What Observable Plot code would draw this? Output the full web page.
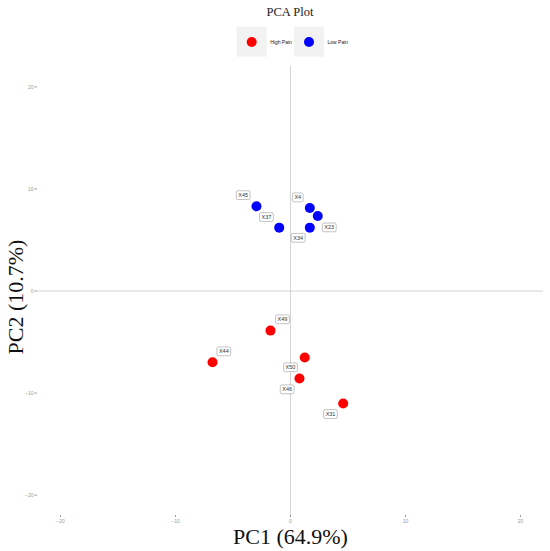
<!DOCTYPE html>
<html>
<head>
<meta charset="utf-8">
<script src="https://cdn.jsdelivr.net/npm/d3@7"></script>
<script src="https://cdn.jsdelivr.net/npm/@observablehq/plot@0.6"></script>
<style>
  html, body { margin: 0; padding: 0; background: white; }
  #wrap { width: 550px; }
  #header { position: relative; width: 550px; height: 60px; }
  #title { position: absolute; left: 0; width: 580px; top: 5px; text-align: center;
           font-family: "Liberation Serif", "DejaVu Serif", serif; font-size: 12.5px; color: #222; }
  #legend { position: absolute; left: 0; top: 0; }
</style>
</head>
<body>
<div id="wrap">
  <div id="header">
    <div id="title">PCA Plot</div>
    <svg id="legend" width="550" height="60"></svg>
  </div>
  <div id="chart"></div>
</div>
<script>
const samples = ["X45", "X37", "X4", "X23", "X34", "X49", "X44", "X50", "X46", "X31"];
const pc1 = [-2.96, -0.98, 1.68, 2.37, 1.68, -1.74, -6.78, 1.24, 0.78, 4.58];
const pc2 = [8.30, 6.21, 8.13, 7.35, 6.21, -3.88, -6.98, -6.52, -8.58, -11.03];
const groups = ["Low Pain", "Low Pain", "Low Pain", "Low Pain", "Low Pain",
                "High Pain", "High Pain", "High Pain", "High Pain", "High Pain"];
// repelled label positions (data units)
const labelX = [-4.11, -2.09, 0.63, 3.37, 0.67, -0.70, -5.80, 0.00, -0.29, 3.48];
const labelY = [9.37, 7.22, 9.15, 6.21, 5.19, -2.80, -5.94, -7.50, -9.66, -12.08];
const groupNames = ["High Pain", "Low Pain"];
const groupColors = ["#FF0000", "#0000FF"];
const axisTicks = [-20, -10, 0, 10, 20];
const xTitle = "PC1 (64.9%)";
const yTitle = "PC2 (10.7%)";

const data = samples.map((s, i) => ({
  sample: s, pc1: pc1[i], pc2: pc2[i], group: groups[i], lx: labelX[i], ly: labelY[i]
}));

const plot = Plot.plot({
  width: 550,
  height: 491,
  marginLeft: 37,
  marginRight: 7,
  marginTop: 6,
  marginBottom: 36,
  style: { fontFamily: "Liberation Sans, Arial, sans-serif", background: "white" },
  x: { domain: [-22, 22] },
  y: { domain: [-22, 22] },
  color: { domain: groupNames, range: groupColors },
  marks: [
    Plot.ruleY([0], { stroke: "#d3d3d3", strokeWidth: 1 }),
    Plot.ruleX([0], { stroke: "#d3d3d3", strokeWidth: 1 }),
    Plot.axisX({ ticks: axisTicks, tickSize: 2, tickPadding: 2, fontSize: 5, color: "#999", label: null }),
    Plot.axisY({ ticks: axisTicks, tickSize: 2.5, tickPadding: 1.5, fontSize: 5, color: "#999", label: null }),
    Plot.dot(data, { x: "pc1", y: "pc2", fill: "group", r: 5 }),
    Plot.text(data, { x: "lx", y: "ly", text: "sample", fontSize: 5.5, fill: "#333",
                      className: "repel-labels" }),
    Plot.text([xTitle], { frameAnchor: "bottom", dy: 21, lineAnchor: "middle", textAnchor: "middle",
                          fontSize: 22, fontFamily: "Liberation Serif, serif", fill: "#111" }),
    Plot.text([yTitle], { frameAnchor: "left", dx: -22, dy: 6, rotate: -90, lineAnchor: "middle",
                          textAnchor: "middle", fontSize: 22, fontFamily: "Liberation Serif, serif", fill: "#111" })
  ]
});
document.getElementById("chart").appendChild(plot);

// label boxes (like geom_label)
const ns = "http://www.w3.org/2000/svg";
plot.querySelectorAll(".repel-labels text").forEach(t => {
  const bb = t.getBBox();
  const r = document.createElementNS(ns, "rect");
  const px = 2, py = 1.4;
  r.setAttribute("x", bb.x - px);
  r.setAttribute("y", bb.y - py);
  r.setAttribute("width", bb.width + 2 * px);
  r.setAttribute("height", bb.height + 2 * py);
  r.setAttribute("rx", 1.5);
  r.setAttribute("fill", "white");
  r.setAttribute("stroke", "#9a9a9a");
  r.setAttribute("stroke-width", 0.6);
  if (t.getAttribute("transform")) r.setAttribute("transform", t.getAttribute("transform"));
  t.parentNode.insertBefore(r, t);
});

// legend
const lg = d3.select("#legend");
const keyX = [236.7, 294];
groupNames.forEach((g, i) => {
  lg.append("rect").attr("x", keyX[i]).attr("y", 26.7).attr("width", 30).attr("height", 30).attr("fill", "#f2f2f2");
  lg.append("circle").attr("cx", keyX[i] + 15).attr("cy", 42).attr("r", 5).attr("fill", groupColors[i]);
  lg.append("text").attr("x", keyX[i] + 33.5).attr("y", 42).attr("dy", "0.35em")
    .attr("font-family", "Liberation Sans, Arial, sans-serif").attr("font-size", 5).attr("fill", "#222").text(g);
});
</script>
</body>
</html>
